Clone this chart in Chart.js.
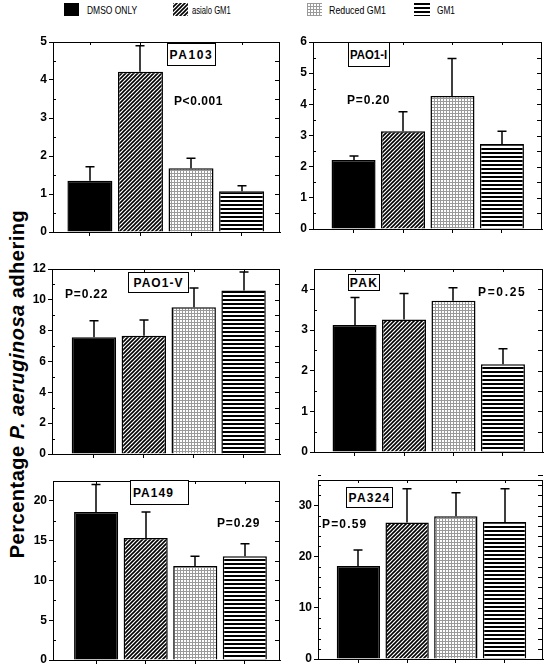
<!DOCTYPE html>
<html>
<head>
<meta charset="utf-8">
<script src="https://cdn.jsdelivr.net/npm/chart.js@4.4.1/dist/chart.umd.min.js"></script>
<style>
  body { margin: 0; background: #fff; }
  #page { position: relative; width: 555px; height: 671px; overflow: hidden; font-family: "Liberation Sans", Arial, sans-serif; color: #000; }
  #page canvas, .txt, .box { position: absolute; }
  .txt { white-space: nowrap; line-height: 14px; transform-origin: left center; }
  .bold { font-weight: bold; font-size: 12px; }
  .leg { font-size: 11px; }
  .box { border: 1px solid #000; background: #fff; box-sizing: border-box; display: flex; align-items: center; justify-content: center; }
  .ytitle { position: absolute; left: 17px; top: 384px; transform: translate(-50%, -50%) rotate(-90deg); white-space: nowrap; font-weight: bold; font-size: 20px; letter-spacing: 0.5px; }
</style>
</head>
<body>
<div id="page">
  <div class="ytitle">Percentage <i>P. aeruginosa</i> adhering</div>
</div>
<script>
// groups (bar order in every panel)
const groups = ["DMSO ONLY", "asialo GM1", "Reduced GM1", "GM1"];

// mean and SEM per strain
const pa103Mean = [1.35, 4.22, 1.68, 1.07];
const pa103Sem  = [0.37, 0.68, 0.26, 0.15];
const pa103Ticks = [0, 1, 2, 3, 4, 5];

const pao1iMean = [2.21, 3.14, 4.27, 2.73];
const pao1iSem  = [0.13, 0.62, 1.20, 0.41];
const pao1iTicks = [0, 1, 2, 3, 4, 5, 6];

const pao1vMean = [7.57, 7.67, 9.52, 10.6];
const pao1vSem  = [1.08, 1.03, 1.24, 1.20];
const pao1vTicks = [0, 2, 4, 6, 8, 10, 12];

const pakMean = [3.12, 3.26, 3.72, 2.16];
const pakSem  = [0.68, 0.64, 0.32, 0.38];
const pakTicks = [0, 1, 2, 3, 4];

const pa149Mean = [18.6, 15.33, 11.8, 13.05];
const pa149Sem  = [3.45, 3.27, 1.25, 1.55];
const pa149Ticks = [0, 5, 10, 15, 20];

const pa324Mean = [18.2, 26.7, 27.9, 26.8];
const pa324Sem  = [3.1, 6.6, 4.6, 6.5];
const pa324Ticks = [0, 10, 20, 30];

// layout of each panel: plot area [left, top, right, bottom], name box, p-value text
const panels = [
  { name: "PA103", p: "P<0.001", mean: pa103Mean, sem: pa103Sem, ticks: pa103Ticks, yMax: 5, minor: 0.5,
    area: [53, 42, 280, 232], xRange: [-0.73, 3.76], box: [167, 43, 49, 23, 44], pPos: [174, 101, 49] },
  { name: "PAO1-I", p: "P=0.20", mean: pao1iMean, sem: pao1iSem, ticks: pao1iTicks, yMax: 6, minor: 0.5,
    area: [313, 42, 542, 229], xRange: [-0.82, 3.81], box: [348, 42, 42, 25, 37], pPos: [347, 100, 43] },
  { name: "PAO1-V", p: "P=0.22", mean: pao1vMean, sem: pao1vSem, ticks: pao1vTicks, yMax: 12, minor: 1,
    area: [52, 269, 280, 454], xRange: [-0.84, 3.73], box: [128, 272, 61, 21, 50], pPos: [65, 294, 43] },
  { name: "PAK", p: "P=0.25", mean: pakMean, sem: pakSem, ticks: pakTicks, yMax: 4.5, minor: 0.5,
    area: [314, 269, 543, 452], xRange: [-0.82, 3.81], box: [348, 274, 32, 17, 28], pPos: [478, 292, 48] },
  { name: "PA149", p: "P=0.29", mean: pa149Mean, sem: pa149Sem, ticks: pa149Ticks, yMax: 22.5, minor: 2.5,
    area: [53, 481, 280, 660], xRange: [-0.87, 3.71], box: [130, 480, 59, 25, 41], pPos: [217, 523, 43], boxLeft: true },
  { name: "PA324", p: "P=0.59", mean: pa324Mean, sem: pa324Sem, ticks: pa324Ticks, yMax: 35, minor: 2,
    area: [318, 480, 543, 659], xRange: [-0.83, 3.79], box: [346, 487, 47, 21, 42], pPos: [322, 524, 45] }
];

const page = document.getElementById("page");

// fill patterns for the four treatments
function makeTile(kind) {
  const c = document.createElement("canvas");
  const g = c.getContext("2d");
  if (kind === "diag") {
    c.width = c.height = 4;
    g.fillStyle = "#fff"; g.fillRect(0, 0, 4, 4);
    g.strokeStyle = "#000"; g.lineWidth = 1.6;
    g.beginPath();
    g.moveTo(0, 4); g.lineTo(4, 0);
    g.moveTo(-1, 1); g.lineTo(1, -1);
    g.moveTo(3, 5); g.lineTo(5, 3);
    g.stroke();
  } else if (kind === "dots") {
    c.width = c.height = 3;
    g.fillStyle = "#fff"; g.fillRect(0, 0, 3, 3);
    g.fillStyle = "#9a9a9a"; g.fillRect(0, 0, 3, 1); g.fillRect(0, 0, 1, 3);
  } else {
    c.width = c.height = 4;
    g.fillStyle = "#fff"; g.fillRect(0, 0, 4, 4);
    g.fillStyle = "#000"; g.fillRect(0, 0, 4, 2);
  }
  return c;
}
const patCtx = document.createElement("canvas").getContext("2d");
const fills = [
  "#000",
  patCtx.createPattern(makeTile("diag"), "repeat"),
  patCtx.createPattern(makeTile("dots"), "repeat"),
  patCtx.createPattern(makeTile("hlines"), "repeat")
];

// stretch or squeeze a text element to a measured width
function fitWidth(el, w) {
  const nat = el.offsetWidth;
  const n = el.textContent.length;
  if (nat > w) {
    el.style.transform = "scaleX(" + (w / nat) + ")";
  } else {
    el.style.letterSpacing = ((w - nat) / n) + "px";
  }
}

function addText(html, cls, left, cy, w) {
  const el = document.createElement("div");
  el.className = "txt " + cls;
  el.innerHTML = html;
  el.style.left = left + "px";
  el.style.top = (cy - 7) + "px";
  page.appendChild(el);
  if (w) fitWidth(el, w);
  return el;
}

// legend
const legendPos = [[64, 87, 50], [173, 192, 39], [307, 329, 57], [414, 437, 18]];
groups.forEach((g, i) => {
  const sw = document.createElement("canvas");
  sw.width = legendPos[i][0] === 414 ? 16 : 15;
  sw.height = 13;
  sw.style.left = legendPos[i][0] + "px";
  sw.style.top = "3px";
  page.appendChild(sw);
  const sc = sw.getContext("2d");
  sc.fillStyle = fills[i];
  sc.fillRect(0, 0, sw.width, sw.height);
  addText(g, "leg", legendPos[i][1], 10, legendPos[i][2]);
});

// error bars (mean + SEM, upper side only)
const errorBars = {
  id: "errorBars",
  afterDatasetsDraw(chart, args, opts) {
    const ctx = chart.ctx;
    const y = chart.scales.y;
    const ds = chart.data.datasets[0];
    ctx.save();
    ctx.strokeStyle = "#000";
    ctx.lineWidth = 1.5;
    chart.getDatasetMeta(0).data.forEach((bar, i) => {
      const top = y.getPixelForValue(ds.data[i].y + opts.sem[i]);
      const x = Math.round(bar.x);
      ctx.beginPath();
      ctx.moveTo(x, bar.y);
      ctx.lineTo(x, top);
      ctx.moveTo(x - 4.5, top);
      ctx.lineTo(x + 4.5, top);
      ctx.stroke();
    });
    ctx.restore();
  }
};

// top/right border plus the small inward ticks
const frame = {
  id: "frame",
  afterDraw(chart, args, opts) {
    const ctx = chart.ctx;
    const a = chart.chartArea;
    const y = chart.scales.y;
    const x = chart.scales.x;
    const L = Math.round(a.left), R = Math.round(a.right), T = Math.round(a.top);
    ctx.save();
    ctx.strokeStyle = "#000";
    ctx.lineWidth = 1;
    ctx.beginPath();
    ctx.moveTo(L, T + 0.5); ctx.lineTo(R, T + 0.5);
    ctx.moveTo(R - 0.5, T); ctx.lineTo(R - 0.5, Math.round(a.bottom));
    const n = Math.round(y.max / opts.minor);
    for (let k = 1; k <= n; k++) {
      const v = k * opts.minor;
      const py = Math.round(y.getPixelForValue(v)) + 0.5;
      ctx.moveTo(R - 5, py); ctx.lineTo(R, py);
      if (!opts.major.includes(v)) {
        ctx.moveTo(L, py); ctx.lineTo(L + 3, py);
      }
    }
    x.ticks.forEach(t => {
      const px = Math.round(x.getPixelForValue(t.value)) + 0.5;
      ctx.moveTo(px, T); ctx.lineTo(px, T + 3);
    });
    ctx.stroke();
    ctx.restore();
  }
};

const AX = 50, PT = 10, PR = 6, XH = 12;
const tickFont = { family: "'Liberation Sans', Arial, sans-serif", size: 12, weight: "bold" };

panels.forEach(p => {
  const [l, t, r, b] = p.area;
  const cv = document.createElement("canvas");
  cv.width = (r - l) + AX + PR;
  cv.height = (b - t) + PT + XH;
  cv.style.left = (l - AX) + "px";
  cv.style.top = (t - PT) + "px";
  page.appendChild(cv);

  new Chart(cv, {
    type: "bar",
    data: {
      datasets: [{
        data: p.mean.map((v, i) => ({ x: i, y: v })),
        backgroundColor: fills,
        borderColor: "#000",
        borderWidth: 1.5,
        barPercentage: 0.89,
        categoryPercentage: 1
      }]
    },
    options: {
      responsive: false,
      animation: false,
      devicePixelRatio: 1,
      layout: { padding: { top: PT, right: PR, left: 0, bottom: 0 } },
      scales: {
        x: {
          type: "linear",
          offset: false,
          min: p.xRange[0],
          max: p.xRange[1],
          afterBuildTicks: s => { s.ticks = groups.map((g, i) => ({ value: i })); },
          afterFit: s => { s.height = XH; },
          ticks: { display: false },
          grid: { offset: false, drawOnChartArea: false, tickLength: 4, color: "#000" },
          border: { color: "#000", width: 1 }
        },
        y: {
          min: 0,
          max: p.yMax,
          afterBuildTicks: s => { s.ticks = p.ticks.map(v => ({ value: v })); },
          afterFit: s => { s.width = AX; },
          ticks: { font: tickFont, color: "#000", padding: 2, callback: v => String(v) },
          grid: { drawOnChartArea: false, tickLength: 4, color: "#000" },
          border: { color: "#000", width: 1 }
        }
      },
      plugins: {
        legend: { display: false },
        tooltip: { enabled: false },
        errorBars: { sem: p.sem },
        frame: { minor: p.minor, major: p.ticks }
      }
    },
    plugins: [errorBars, frame]
  });

  // strain name box
  const [bx, by, bw, bh, tw] = p.box;
  const box = document.createElement("div");
  box.className = "box";
  box.style.left = bx + "px";
  box.style.top = by + "px";
  box.style.width = bw + "px";
  box.style.height = bh + "px";
  if (p.boxLeft) { box.style.justifyContent = "flex-start"; box.style.paddingLeft = "2px"; }
  const span = document.createElement("span");
  span.className = "bold";
  span.style.whiteSpace = "nowrap";
  span.style.display = "inline-block";
  span.textContent = p.name;
  box.appendChild(span);
  page.appendChild(box);
  fitWidth(span, tw);

  // p-value
  const pt = addText("", "bold", p.pPos[0], p.pPos[1], 0);
  pt.textContent = p.p;
  fitWidth(pt, p.pPos[2]);
});
</script>
</body>
</html>
